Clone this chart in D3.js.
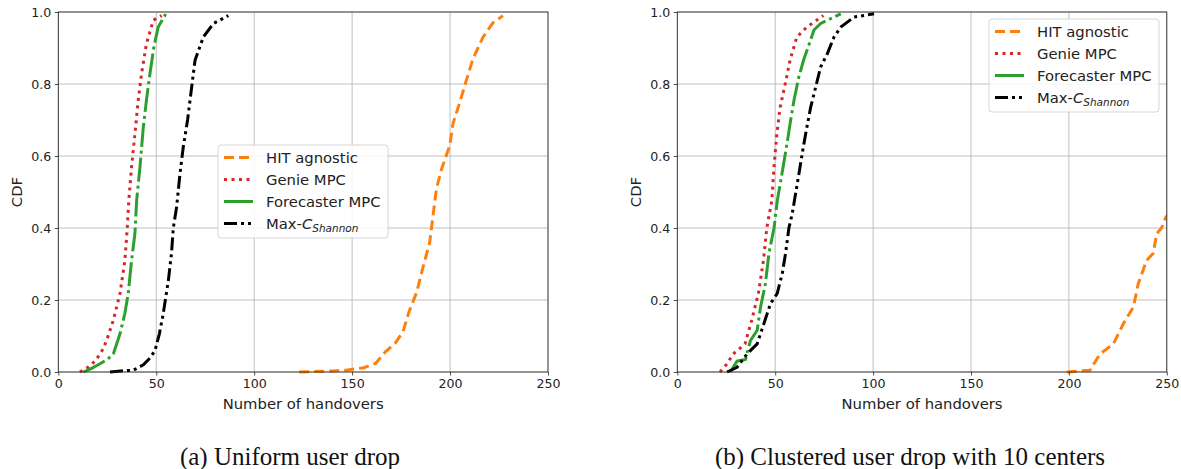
<!DOCTYPE html>
<html><head><meta charset="utf-8">
<script src="https://cdn.jsdelivr.net/npm/d3@7"></script>
<style>body{margin:0;background:#fff;} svg{display:block;}</style>
</head><body>
<svg id="c" width="1181" height="469"></svg>
<script>
const seriesNames = ["HIT agnostic", "Genie MPC", "Forecaster MPC", "Max-C"];
const xTicks = [0, 50, 100, 150, 200, 250];
const yTicks = [0.0, 0.2, 0.4, 0.6, 0.8, 1.0];
const captions = ["(a) Uniform user drop", "(b) Clustered user drop with 10 centers"];

// Panel (a): [x, cdf]
const a_hit = [[123,0],[140,0.003],[147,0.005],[156,0.012],[162,0.024],[167,0.056],[172,0.08],[176,0.112],[179,0.167],[183,0.222],[186,0.287],[189.6,0.36],[191.3,0.434],[193,0.508],[195.6,0.563],[199.8,0.628],[201.5,0.69],[204.9,0.748],[208.3,0.81],[211.7,0.87],[216.8,0.93],[221.9,0.97],[227,0.99]];
const a_genie = [[11,0],[15,0.012],[18.7,0.03],[22,0.055],[24.7,0.088],[28.1,0.144],[31.5,0.218],[34,0.31],[35.2,0.4],[36,0.477],[37.4,0.57],[39.1,0.66],[40.8,0.755],[42.5,0.829],[45,0.912],[48.5,0.977],[52.8,0.99]];
const a_fore = [[12.8,0],[17,0.01],[21.3,0.023],[25,0.035],[28.1,0.05],[31.5,0.106],[34,0.163],[35.7,0.218],[37.4,0.31],[39.1,0.384],[40,0.477],[41.7,0.57],[43.4,0.68],[45,0.755],[46.8,0.829],[48.8,0.903],[51,0.958],[54.4,0.99],[55,1.0]];
const a_max = [[26.4,0],[32,0.003],[38.3,0.005],[43.4,0.02],[47,0.04],[49.4,0.06],[51.6,0.106],[53.6,0.163],[56.2,0.255],[57.8,0.33],[58.7,0.4],[60.4,0.458],[62.1,0.55],[63.8,0.625],[66,0.7],[68.1,0.792],[69.8,0.866],[74,0.93],[79.2,0.968],[86.8,0.99]];

// Panel (b)
const b_hit = [[198.9,0],[210.8,0.005],[213,0.025],[215.9,0.05],[222.7,0.078],[227.8,0.134],[232.9,0.18],[235.4,0.245],[239.7,0.31],[243.1,0.33],[244.8,0.384],[247.3,0.4],[249.5,0.43],[251,0.44]];
const b_genie = [[21.8,0],[25,0.02],[28.6,0.05],[34.6,0.078],[38,0.144],[41.4,0.218],[44,0.31],[45.7,0.4],[48.3,0.477],[49.4,0.57],[50.8,0.66],[52.5,0.735],[55.1,0.8],[57.6,0.866],[61,0.93],[66.1,0.958],[74.6,0.99]];
const b_fore = [[27.1,0],[30.5,0.03],[34.8,0.035],[37.4,0.088],[40.8,0.116],[42.5,0.18],[45,0.245],[46.8,0.33],[49.4,0.4],[51.1,0.477],[52.8,0.53],[54.5,0.585],[56.2,0.64],[57.9,0.7],[59.6,0.755],[62.1,0.82],[64.7,0.87],[67.3,0.91],[69.8,0.95],[73.2,0.968],[83.5,0.995]];
const b_max = [[25.4,0],[30.5,0.013],[35.6,0.05],[40.8,0.078],[44.2,0.134],[47.6,0.19],[51,0.218],[53.6,0.273],[55.3,0.33],[57,0.4],[58.7,0.44],[60.4,0.495],[62.1,0.55],[63.8,0.607],[65.5,0.66],[68.1,0.735],[70.6,0.79],[73.2,0.847],[76.6,0.884],[80,0.93],[83.5,0.958],[90.3,0.986],[100.5,0.995]];

const colors = ["#ff7f0e", "#d62728", "#2ca02c", "#000000"];
const dashes = ["10,5", "3,4.5", "24,4,3,4", "13,4,3,4,3,4"];

const svg = d3.select("#c");
const font = "DejaVu Sans, sans-serif";

const panels = [
  {x0: 58.3, x1: 548, data: [a_hit, a_genie, a_fore, a_max], legend: {x: 218, y: 145, w: 170, h: 93}, cap: captions[0], capX: 290},
  {x0: 677.3, x1: 1166.8, data: [b_hit, b_genie, b_fore, b_max], legend: {x: 989, y: 19, w: 170, h: 93}, cap: captions[1], capX: 910}
];
const plotTop = 12, plotBottom = 372;

panels.forEach((p, pi) => {
  const x = d3.scaleLinear().domain([0, 250]).range([p.x0, p.x1]);
  const y = d3.scaleLinear().domain([0, 1]).range([plotBottom, plotTop]);
  const g = svg.append("g");
  const clipId = "clip" + pi;
  svg.append("clipPath").attr("id", clipId).append("rect")
    .attr("x", p.x0).attr("y", plotTop - 3).attr("width", p.x1 - p.x0).attr("height", plotBottom - plotTop + 6);

  // grid
  g.selectAll(".gx").data(xTicks).enter().append("line")
    .attr("x1", d => x(d)).attr("x2", d => x(d)).attr("y1", plotTop).attr("y2", plotBottom)
    .attr("stroke", "#b0b0b0").attr("stroke-width", 0.8);
  g.selectAll(".gy").data(yTicks).enter().append("line")
    .attr("y1", d => y(d)).attr("y2", d => y(d)).attr("x1", p.x0).attr("x2", p.x1)
    .attr("stroke", "#b0b0b0").attr("stroke-width", 0.8);

  // lines
  const line = d3.line().x(d => x(d[0])).y(d => y(d[1]));
  p.data.forEach((s, i) => {
    g.append("path").datum(s).attr("d", line)
      .attr("clip-path", `url(#${clipId})`)
      .attr("fill", "none").attr("stroke", colors[i]).attr("stroke-width", 3)
      .attr("stroke-dasharray", dashes[i]);
  });

  // axes
  const xa = g.append("g").attr("transform", `translate(0,${plotBottom})`)
    .call(d3.axisBottom(x).tickValues(xTicks).tickSize(3.5).tickPadding(3.5).tickFormat(d3.format("d")));
  const ya = g.append("g").attr("transform", `translate(${p.x0},0)`)
    .call(d3.axisLeft(y).tickValues(yTicks).tickSize(3.5).tickPadding(3.5).tickFormat(d3.format(".1f")));
  [xa, ya].forEach(a => {
    a.select(".domain").remove();
    a.selectAll("text").attr("font-family", font).attr("font-size", 12.6).attr("fill", "#222");
    a.selectAll("line").attr("stroke", "#222").attr("stroke-width", 0.8);
  });
  g.append("rect").attr("x", p.x0).attr("y", plotTop).attr("width", p.x1 - p.x0).attr("height", plotBottom - plotTop)
    .attr("fill", "none").attr("stroke", "#222").attr("stroke-width", 0.8);

  // axis labels
  g.append("text").attr("x", (p.x0 + p.x1) / 2).attr("y", 409).attr("text-anchor", "middle")
    .attr("font-family", font).attr("font-size", 14.8).attr("fill", "#222").text("Number of handovers");
  g.append("text").attr("transform", `translate(${p.x0 - 36},${(plotTop + plotBottom) / 2}) rotate(-90)`)
    .attr("text-anchor", "middle").attr("font-family", font).attr("font-size", 14.8).attr("fill", "#222").text("CDF");

  // legend
  const L = p.legend;
  const lg = g.append("g");
  lg.append("rect").attr("x", L.x).attr("y", L.y).attr("width", L.w).attr("height", L.h)
    .attr("rx", 3).attr("fill", "rgba(255,255,255,0.85)").attr("stroke", "#cccccc").attr("stroke-width", 0.8);
  const legDash = ["10,5", "3,4.5", null, "13,4,3,4,3,4"];
  seriesNames.forEach((name, i) => {
    const yy = L.y + 12.5 + i * 22;
    lg.append("line").attr("x1", L.x + 6).attr("x2", L.x + 35).attr("y1", yy).attr("y2", yy)
      .attr("stroke", colors[i]).attr("stroke-width", 3).attr("stroke-dasharray", legDash[i]);
    const t = lg.append("text").attr("x", L.x + 48).attr("y", yy + 5.3)
      .attr("font-family", font).attr("font-size", 14.8).attr("fill", "#222");
    if (i === 3) {
      t.append("tspan").text("Max-");
      t.append("tspan").attr("font-style", "italic").text("C");
      t.append("tspan").attr("font-style", "italic").attr("font-size", 10.5).attr("dy", 3).text("Shannon");
    } else {
      t.text(name);
    }
  });

  // caption
  svg.append("text").attr("x", p.capX).attr("y", 465).attr("text-anchor", "middle")
    .attr("font-family", "Liberation Serif, Times New Roman, serif").attr("font-size", 25).attr("fill", "#111").text(p.cap);
});
</script>
</body></html>
